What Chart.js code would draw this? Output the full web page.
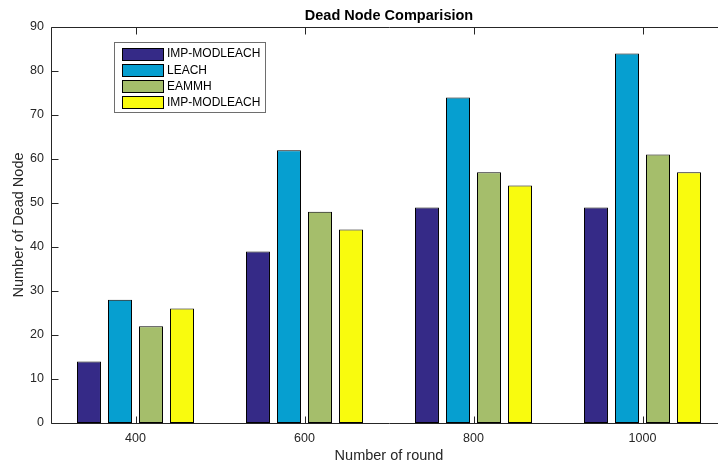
<!DOCTYPE html>
<html><head><meta charset="utf-8">
<script src="https://cdn.jsdelivr.net/npm/chart.js@4.4.0/dist/chart.umd.min.js"></script>
<style>html,body{margin:0;padding:0;overflow:hidden;background:#fff;width:718px;height:466px}</style>
</head><body>
<canvas id="c" width="740" height="466" style="width:740px;height:466px;display:block"></canvas>
<script>
const categories = ['400', '600', '800', '1000'];
const seriesNames = ['IMP-MODLEACH', 'LEACH', 'EAMMH', 'IMP-MODLEACH'];
const impModleach = [14, 39, 49, 49];
const leach = [28, 62, 74, 84];
const eammh = [22, 48, 57, 61];
const impModleach2 = [26, 44, 54, 57];
const yTicks = [0, 10, 20, 30, 40, 50, 60, 70, 80, 90];
const chartTitle = 'Dead Node Comparision';
const xTitle = 'Number of round';
const yTitle = 'Number of Dead Node';

const colors = ['#352A87', '#069FD0', '#A5BE6B', '#F9FB0E'];
const FONT = 'Liberation Sans, Arial, Helvetica, sans-serif';
const AX = '#262626';

const seriesValues = [impModleach, leach, eammh, impModleach2];

const axesBox = {
  id: 'axesBox',
  afterDatasetsDraw(chart) {
    const {ctx, chartArea: a, scales: {x, y}} = chart;
    ctx.save();
    ctx.strokeStyle = AX;
    ctx.lineWidth = 1;
    ctx.beginPath();
    const L = Math.round(a.left) + 0.5, R = Math.round(a.right) + 0.5;
    const T = Math.round(a.top) + 0.5, B = Math.round(a.bottom) + 0.5;
    ctx.moveTo(L, T); ctx.lineTo(R, T); ctx.lineTo(R, B); ctx.lineTo(L, B); ctx.closePath();
    y.ticks.forEach(t => {
      const py = Math.round(y.getPixelForValue(t.value)) + 0.5;
      ctx.moveTo(L, py); ctx.lineTo(L + 7, py);
      ctx.moveTo(R, py); ctx.lineTo(R - 7, py);
    });
    x.ticks.forEach((t, i) => {
      const px = Math.round(x.getPixelForValue(i)) + 0.5;
      ctx.moveTo(px, B); ctx.lineTo(px, B - 7);
      ctx.moveTo(px, T); ctx.lineTo(px, T + 7);
    });
    ctx.stroke();
    ctx.restore();
  },
  afterDraw(chart) {
    const {ctx, chartArea: a} = chart;
    ctx.save();
    // title
    ctx.fillStyle = '#000';
    ctx.font = 'bold 14.5px ' + FONT;
    ctx.textAlign = 'center';
    ctx.textBaseline = 'middle';
    ctx.fillText(chartTitle, (a.left + a.right) / 2, 16);
    // legend
    const bx = 114.5, by = 42.5, bw = 151, bh = 70;
    ctx.fillStyle = '#fff';
    ctx.fillRect(bx, by, bw, bh);
    ctx.strokeStyle = '#6e6e6e';
    ctx.lineWidth = 1;
    ctx.strokeRect(bx, by, bw, bh);
    ctx.font = '12px ' + FONT;
    ctx.textAlign = 'left';
    chart.data.datasets.forEach((ds, i) => {
      const cy = 53.5 + i * 16.2;
      const sy = Math.round(cy - 6) + 0.5;
      ctx.fillStyle = ds.backgroundColor;
      ctx.fillRect(122.5, sy, 41, 12);
      ctx.strokeStyle = '#000';
      ctx.strokeRect(122.5, sy, 41, 12);
      ctx.fillStyle = '#000';
      ctx.fillText(ds.label, 167, cy + 0.5);
    });
    ctx.restore();
  }
};

new Chart(document.getElementById('c'), {
  type: 'bar',
  data: {
    labels: categories,
    datasets: seriesValues.map((vals, i) => ({
      label: seriesNames[i],
      data: vals,
      backgroundColor: colors[i],
      borderColor: '#000',
      borderWidth: 1,
      borderSkipped: false,
      categoryPercentage: 0.734,
      barPercentage: 0.774
    }))
  },
  options: {
    responsive: false,
    animation: false,
    devicePixelRatio: 1,
    layout: {padding: {top: 27, right: 13, left: 0, bottom: 0}},
    plugins: {legend: {display: false}, title: {display: false}, tooltip: {enabled: false}},
    scales: {
      x: {
        type: 'category',
        grid: {display: false, drawTicks: false},
        border: {display: false},
        ticks: {color: AX, font: {family: FONT, size: 12.5}, padding: 8, maxRotation: 0},
        title: {display: true, text: xTitle, color: AX, font: {family: FONT, size: 14.5}, padding: {top: 0, bottom: 1}},
        afterFit(s) { s.height = 43; }
      },
      y: {
        min: 0, max: 90,
        grid: {display: false, drawTicks: false},
        border: {display: false},
        afterBuildTicks(s) { s.ticks = yTicks.map(v => ({value: v})); },
        ticks: {color: AX, font: {family: FONT, size: 12.5}, padding: 7},
        title: {display: true, text: yTitle, color: AX, font: {family: FONT, size: 14.5}, padding: {top: 10, bottom: 0}},
        afterFit(s) { s.width = 51; }
      }
    }
  },
  plugins: [axesBox]
});
</script>
</body></html>
